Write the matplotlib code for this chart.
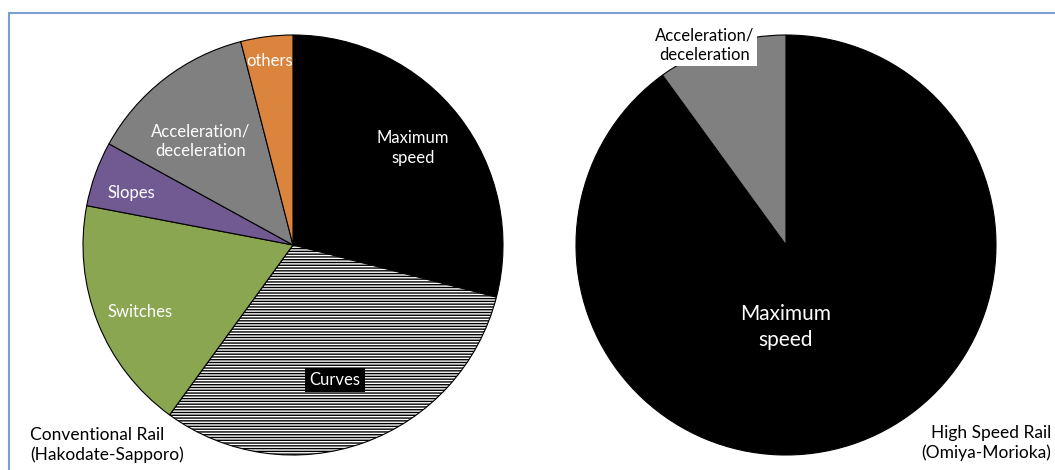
import matplotlib.pyplot as plt
from matplotlib.patches import Rectangle

plt.rcParams['font.family'] = ['Lato', 'DejaVu Sans']
plt.rcParams['hatch.linewidth'] = 1.0
plt.rcParams['hatch.color'] = 'black'

# Conventional line: share of running time by factor (%)
conv_labels = ['Maximum\nspeed', 'Curves', 'Switches', 'Slopes',
               'Acceleration/\ndeceleration', 'others']
conv_values = [29, 31, 18, 5, 13, 4]
conv_colors = ['#000000', '#ffffff', '#8aa650', '#715a91', '#808080', '#db843d']
conv_hatch = [None, '------', None, None, None, None]

# High speed line
hsr_labels = ['Maximum\nspeed', 'Acceleration/\ndeceleration']
hsr_values = [90, 10]
hsr_colors = ['#000000', '#808080']

W, H = 1055, 470
fig = plt.figure(figsize=(W / 100, H / 100), dpi=100)

# frame line round the chart area
fig.patches.append(Rectangle((9 / W, -0.1), 1.2, (H - 13) / H + 0.1,
                             transform=fig.transFigure, fill=False,
                             edgecolor='#7ba0cd', linewidth=1.5))

R = 210


def pie_axes(cx, cy):
    return fig.add_axes([(cx - R) / W, (H - cy - R) / H, 2 * R / W, 2 * R / H])


def fit(ax):
    ax.set_xlim(-1, 1)
    ax.set_ylim(-1, 1)
    ax.axis('off')


# left pie
ax1 = pie_axes(293, 245)
wedges, _ = ax1.pie(conv_values, colors=conv_colors, startangle=90,
                    counterclock=False, radius=1,
                    wedgeprops=dict(edgecolor='black', linewidth=0.8))
fit(ax1)
for w, h in zip(wedges, conv_hatch):
    if h:
        w.set_hatch(h)

lab_pos = [(0.571, 0.462), (0.2, -0.643), (-0.729, -0.319), (-0.771, 0.248),
           (-0.438, 0.495), (-0.11, 0.876)]
for lab, (x, y) in zip(conv_labels, lab_pos):
    if lab == 'Curves':
        ax1.text(x, y, lab, color='white', fontsize=12, ha='center', va='center',
                 bbox=dict(facecolor='black', edgecolor='none', pad=3))
    else:
        ax1.text(x, y, lab, color='white', fontsize=12, ha='center', va='center',
                 linespacing=1.3)

fig.text(30 / W, 1 - 445 / H, 'Conventional Rail\n(Hakodate-Sapporo)',
         ha='left', va='center', fontsize=12.5, linespacing=1.3)

# right pie
ax2 = pie_axes(786, 245)
ax2.pie(hsr_values, colors=hsr_colors, startangle=90, counterclock=False,
        radius=1, wedgeprops=dict(edgecolor='black', linewidth=0.8))
fit(ax2)
ax2.text(0, -0.39, hsr_labels[0], color='white', fontsize=15,
         ha='center', va='center', linespacing=1.35)
ax2.text(-0.386, 0.952, hsr_labels[1], color='black', fontsize=12,
         ha='center', va='center', linespacing=1.3,
         bbox=dict(facecolor='white', edgecolor='none', pad=2))

fig.text(1051 / W, 1 - 443 / H, 'High Speed Rail\n(Omiya-Morioka)',
         ha='right', va='center', fontsize=12.5, linespacing=1.3)

fig.savefig('out.png', dpi=100)
